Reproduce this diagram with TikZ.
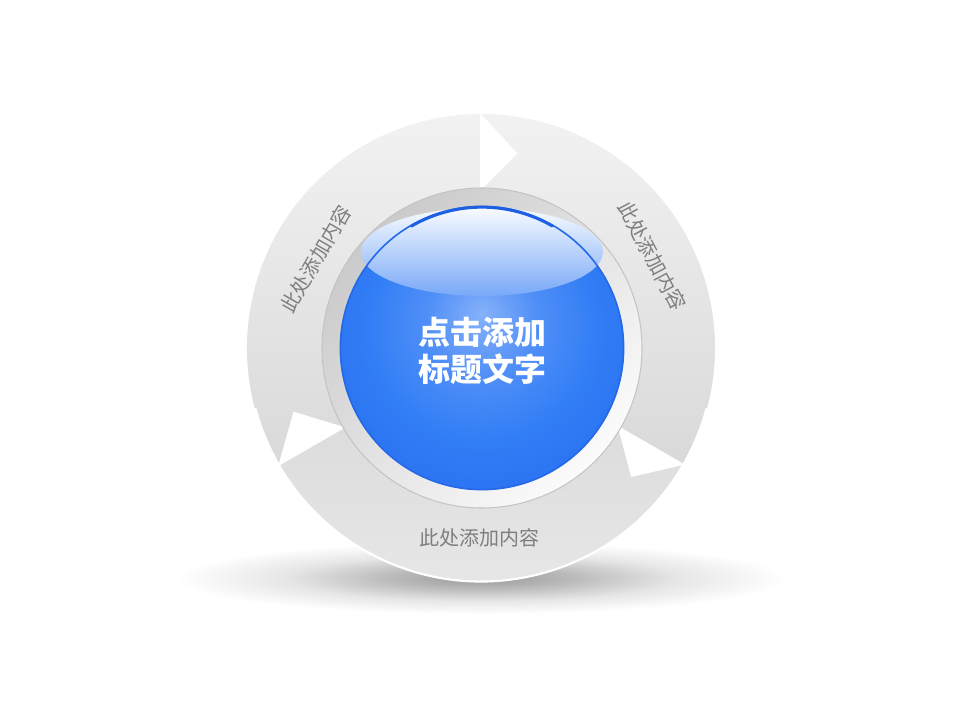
\documentclass[tikz,border=0pt]{standalone}
\usepackage{fontspec}
\newfontfamily\cjk{Noto Sans CJK SC}
\definecolor{shA}{HTML}{9A9A9A}
\definecolor{shB}{HTML}{B8B8B8}
\definecolor{shC}{HTML}{E6E6E6}
\definecolor{bl0}{HTML}{86B1FA}
\definecolor{bl1}{HTML}{4F8EF7}
\definecolor{bl2}{HTML}{327EF6}
\definecolor{bl3}{HTML}{2C74F2}
\definecolor{blRim}{HTML}{2568E8}
\definecolor{blRimTop}{HTML}{1E60E4}
\definecolor{hlTop}{HTML}{F8FBFF}
\definecolor{hlBot}{HTML}{78A8F8}
\definecolor{ringA}{HTML}{F2F2F2}
\definecolor{ringB}{HTML}{D9D9D9}
\definecolor{ringC}{HTML}{DCDCDC}
\definecolor{ringD}{HTML}{E9E9E9}
\definecolor{silA}{HTML}{CACACA}
\definecolor{silB}{HTML}{FBFBFB}
\definecolor{silLine}{HTML}{C4C4C4}
\definecolor{labelgray}{HTML}{7F7F7F}
\pgfdeclareradialshading{shadowsh}{\pgfpointorigin}{color(0bp)=(shA); color(7bp)=(shB); color(16bp)=(shC); color(25bp)=(white); color(50bp)=(white)}
\pgfdeclareradialshading{bluesph}{\pgfpoint{0bp}{6bp}}{color(0bp)=(bl0); color(10bp)=(bl1); color(20bp)=(bl2); color(28bp)=(bl3); color(50bp)=(bl3)}
\tikzset{
  seglabel/.style={text=labelgray, font=\cjk\fontsize{15}{18}\selectfont, inner sep=0pt},
  gapline/.style={white, line width=1.5},
}
\begin{document}
\begin{tikzpicture}[x=0.75pt,y=0.75pt]
\useasboundingbox (-481,-372) rectangle (479,348);
\fill[white] (-481,-372) rectangle (479,348);
% floor shadow
\shade[shading=shadowsh] (0,-230) ellipse [x radius=305, y radius=36];
% ring segments
\shade[top color=ringA, bottom color=ringB]
  (90:234) arc[start angle=90, end angle=-30, radius=234] -- (-30:158)
  arc[start angle=-30, end angle=90, radius=158] -- (79.3:198) -- cycle;
\shade[top color=ringC, bottom color=ringD]
  (-30:234) arc[start angle=-30, end angle=-150, radius=234] -- (-150:158)
  arc[start angle=-150, end angle=-30, radius=158] -- (-40.7:198) -- cycle;
\shade[top color=ringA, bottom color=ringB]
  (210:234) arc[start angle=210, end angle=90, radius=234] -- (90:158)
  arc[start angle=90, end angle=210, radius=158] -- (198.7:198) -- cycle;
\draw[gapline] (90:158) -- (90:237);
\draw[gapline] (-30:158) -- (-30:237);
\draw[gapline] (210:158) -- (210:237);
\draw[white, line width=1.6] (-165:233.5) arc[start angle=-165, end angle=-15, radius=233.5];
% silver ring
\shade[top color=silA, bottom color=silB, shading angle=45] (1,0) circle[radius=160];
\draw[silLine, line width=0.8] (1,0) circle[radius=160];
% blue sphere
\shade[shading=bluesph] (1,0) circle[radius=142];
\shade[top color=hlTop, bottom color=hlBot] (1,96) ellipse[x radius=121, y radius=44];
\draw[blRim, line width=1.2] (1,0) circle[radius=141.6];
\draw[blRimTop, line width=2.2, line cap=round] (1,0) ++(60:140.8) arc[start angle=60, end angle=120, radius=140.8];
% texts
\node[text=white, font=\cjk\bfseries\fontsize{24}{28}\selectfont, align=center] (title) at (2,-3) {点击添加\\标题文字};
\node[seglabel, rotate=60] (lab1) at (-165,89) {此处添加内容};
\node[seglabel, rotate=-62] (lab2) at (171,92) {此处添加内容};
\node[seglabel] (lab3) at (-1,-190) {此处添加内容};
\end{tikzpicture}
\end{document}
